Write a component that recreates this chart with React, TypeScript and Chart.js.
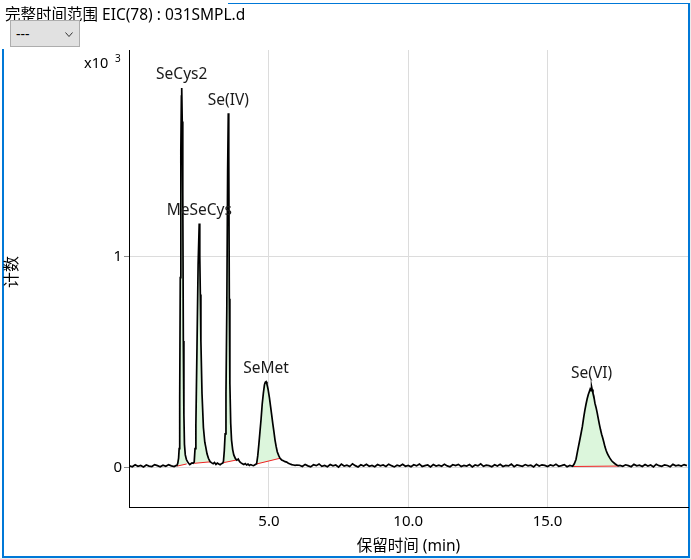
import React, { useEffect, useRef } from 'react';
import { Chart, registerables } from 'chart.js';

Chart.register(...registerables);

const FONT = '"Noto Sans", "Noto Sans CJK SC", sans-serif';

const chartTitle = '完整时间范围 EIC(78) : 031SMPL.d';
const xAxisTitle = '保留时间 (min)';
const yAxisTitle = '计数';
const yScaleLabel = 'x10';
const yScaleExponent = '3';
const dropdownText = '---';

const xTickValues = [5, 10, 15];
const yTickValues = [0, 1000];
const xRange = [-0.02, 20.04];
const yRange = [-187, 1979];

// EIC(78) trace: retention time (min)
const retentionTime = [
  0.0, 0.1, 0.2, 0.3, 0.4, 0.5, 0.6, 0.7, 0.8, 0.9, 1.0, 1.1, 1.2, 1.3, 1.4, 1.5, 1.6,
  1.66, 1.70, 1.73, 1.76, 1.78, 1.80, 1.82, 1.84, 1.86, 1.872, 1.89, 1.91, 1.93, 1.95, 1.97, 2.00, 2.04, 2.08, 2.12, 2.16, 2.20, 2.24, 2.28,
  2.32, 2.35, 2.38, 2.42, 2.46, 2.50, 2.52, 2.54, 2.56, 2.60, 2.65, 2.70, 2.73, 2.78, 2.83, 2.89, 2.95, 3.00, 3.05, 3.10, 3.15, 3.20, 3.25, 3.30,
  3.34, 3.37, 3.40, 3.43, 3.46, 3.49, 3.52, 3.543, 3.56, 3.58, 3.60, 3.63, 3.66, 3.70, 3.74, 3.80, 3.85, 3.90, 3.95, 4.00, 4.05, 4.10, 4.15, 4.20, 4.25, 4.30, 4.35, 4.40, 4.45, 4.50,
  4.56, 4.60, 4.64, 4.68, 4.72, 4.76, 4.80, 4.84, 4.87, 4.90, 4.93, 4.97, 5.02, 5.06, 5.10, 5.14, 5.18, 5.22, 5.26, 5.30, 5.35, 5.40, 5.46, 5.52, 5.58, 5.64, 5.70, 5.76, 5.82, 5.88, 5.94, 6.00,
  6.1, 6.2, 6.3, 6.4, 6.5, 6.6, 6.7, 6.8, 6.9, 7.0,
  7.1, 7.2, 7.3, 7.4, 7.5, 7.6, 7.7, 7.8, 7.9, 8.0,
  8.1, 8.2, 8.3, 8.4, 8.5, 8.6, 8.7, 8.8, 8.9, 9.0,
  9.1, 9.2, 9.3, 9.4, 9.5, 9.6, 9.7, 9.8, 9.9, 10.0,
  10.1, 10.2, 10.3, 10.4, 10.5, 10.6, 10.7, 10.8, 10.9, 11.0,
  11.1, 11.2, 11.3, 11.4, 11.5, 11.6, 11.7, 11.8, 11.9, 12.0,
  12.1, 12.2, 12.3, 12.4, 12.5, 12.6, 12.7, 12.8, 12.9, 13.0,
  13.1, 13.2, 13.3, 13.4, 13.5, 13.6, 13.7, 13.8, 13.9, 14.0,
  14.1, 14.2, 14.3, 14.4, 14.5, 14.6, 14.7, 14.8, 14.9, 15.0,
  15.1, 15.2, 15.3, 15.4, 15.5, 15.6, 15.7, 15.8,
  15.90, 15.96, 16.02, 16.08, 16.14, 16.20, 16.25, 16.30, 16.34, 16.38, 16.42, 16.46, 16.50, 16.53, 16.56, 16.58, 16.60, 16.63, 16.66, 16.70,
  16.74, 16.78, 16.82, 16.86, 16.90, 16.94, 16.98, 17.02, 17.06, 17.10, 17.14, 17.18, 17.22, 17.26, 17.30, 17.36, 17.42, 17.48, 17.54, 17.60,
  17.7, 17.8, 17.9, 18.0, 18.1, 18.2, 18.3, 18.4, 18.5, 18.6, 18.7, 18.8,
  18.9, 19.0, 19.1, 19.2, 19.3, 19.4, 19.5, 19.6, 19.7, 19.8, 19.9, 20.0,
];

// EIC(78) trace: counts
const intensity = [
  8, 4, 13, 6, 10, 3, 12, 7, 5, 14, 9, 4, 11, 6, 13, 8, 5,
  9, 10, 20, 45, 90, 330, 900, 1500, 1760, 1799, 1640, 1300, 600, 250, 110, 60, 38, 28, 20, 14, 18, 22, 20,
  26, 90, 200, 570, 960, 1157, 1000, 820, 600, 350, 190, 120, 100, 65, 44, 28, 22, 18, 24, 15, 21, 17, 13, 19,
  20, 30, 80, 160, 350, 750, 1410, 1679, 1480, 800, 400, 210, 130, 85, 60, 42, 35, 40, 28, 22, 18, 14, 19, 12, 16, 10, 14, 11, 9, 13,
  18, 55, 110, 170, 230, 300, 350, 392, 404, 407, 395, 372, 330, 290, 250, 208, 170, 130, 100, 75, 58, 44, 36, 32, 28, 26, 20, 17, 14, 12, 10, 12,
  11, 5, 15, 8, 3, 13, 9, 17, 6, 10,
  4, 14, 8, 12, 2, 16, 7, 11, 5, 18,
  9, 3, 13, 7, 15, 6, 10, 4, 14, 8,
  12, 5, 16, 9, 3, 11, 7, 15, 6, 10,
  4, 13, 8, 17, 5, 9, 12, 3, 14, 7,
  11, 6, 16, 8, 4, 13, 9, 15, 5, 10,
  7, 14, 3, 12, 8, 18, 6, 11, 9, 4,
  13, 7, 15, 5, 10, 8, 16, 4, 12, 9,
  6, 14, 8, 11, 3, 15, 7, 13, 10, 5,
  12, 8, 16, 6, 9, 14, 4, 10,
  6, 18, 38, 80, 120, 160, 195, 240, 272, 300, 325, 345, 360, 372, 365, 383, 370, 352, 338, 305,
  285, 260, 232, 205, 180, 158, 140, 120, 98, 82, 68, 58, 48, 40, 32, 25, 18, 12, 8, 10,
  6, 13, 9, 4, 15, 8, 11, 5, 14, 7, 12, 3,
  16, 9, 6, 13, 10, 4, 15, 8, 11, 7, 14, 9,
];

// Identified peaks
const peakNames = ['SeCys2', 'MeSeCys', 'Se(IV)', 'SeMet', 'Se(VI)'];
const peakRT = [1.872, 2.503, 3.543, 4.9, 16.58];
const peakHeight = [1799, 1157, 1679, 407, 383];
// Integration baselines
const intStart = [1.71, 2.32, 3.36, 4.56, 15.92];
const intEnd = [2.05, 2.89, 3.85, 5.40, 17.54];
const baseStart = [7, 20, 23, 17, 5];
const baseEnd = [17, 27, 36, 44, 7];

const peakPlugin = {
  id: 'peakPlugin',
  beforeDatasetsDraw(chart: any) {
    const { ctx, chartArea, scales } = chart;
    const x = scales.x;
    const y = scales.y;
    ctx.save();
    ctx.beginPath();
    ctx.rect(chartArea.left, chartArea.top, chartArea.width, chartArea.height);
    ctx.clip();
    ctx.fillStyle = '#dcf6dc';
    peakNames.forEach((_, k) => {
      ctx.beginPath();
      ctx.moveTo(x.getPixelForValue(intStart[k]), y.getPixelForValue(baseStart[k]));
      retentionTime.forEach((t, i) => {
        if (t >= intStart[k] && t <= intEnd[k]) {
          ctx.lineTo(x.getPixelForValue(t), y.getPixelForValue(intensity[i]));
        }
      });
      ctx.lineTo(x.getPixelForValue(intEnd[k]), y.getPixelForValue(baseEnd[k]));
      ctx.closePath();
      ctx.fill();
    });
    ctx.restore();
  },
  afterDatasetsDraw(chart: any) {
    const { ctx, scales } = chart;
    const x = scales.x;
    const y = scales.y;
    ctx.save();
    ctx.font = `15.5px ${FONT}`;
    ctx.fillStyle = '#1a1a1a';
    ctx.textAlign = 'center';
    ctx.textBaseline = 'middle';
    peakNames.forEach((name, k) => {
      ctx.fillText(name, x.getPixelForValue(peakRT[k]), y.getPixelForValue(peakHeight[k]) - 13);
    });
    ctx.restore();
  },
  afterDraw(chart: any) {
    const { ctx, chartArea } = chart;
    ctx.save();
    ctx.fillStyle = '#000';
    ctx.textAlign = 'left';
    ctx.textBaseline = 'alphabetic';
    ctx.font = `15.5px ${FONT}`;
    ctx.fillText(chartTitle, 5, 20);
    ctx.font = `14.5px ${FONT}`;
    ctx.fillText(yScaleLabel, 84, 68);
    ctx.font = `10px ${FONT}`;
    ctx.fillText(yScaleExponent, 115, 62);
    // x axis title
    ctx.font = `15.5px ${FONT}`;
    ctx.textAlign = 'center';
    ctx.fillText(xAxisTitle, (chartArea.left + chartArea.right) / 2, 551);
    // y axis title
    ctx.translate(12, 272);
    ctx.rotate(-Math.PI / 2);
    ctx.font = `16px ${FONT}`;
    ctx.textBaseline = 'middle';
    ctx.fillText(yAxisTitle, 0, 0);
    ctx.restore();
  },
};

export default function App() {
  const canvasRef = useRef<HTMLCanvasElement | null>(null);

  useEffect(() => {
    const canvas = canvasRef.current;
    if (!canvas) return;
    const tracePoints = retentionTime.map((t, i) => ({ x: t, y: intensity[i] }));
    const baselinePoints: any[] = [];
    peakNames.forEach((_, k) => {
      baselinePoints.push({ x: intStart[k], y: baseStart[k] });
      baselinePoints.push({ x: intEnd[k], y: baseEnd[k] });
      baselinePoints.push({ x: intEnd[k] + 0.001, y: null });
    });

    const chart = new Chart(canvas, {
      type: 'line',
      data: {
        datasets: [
          {
            label: 'EIC(78)',
            data: tracePoints,
            borderColor: '#000',
            borderWidth: 1.7,
            pointRadius: 0,
            tension: 0,
            fill: false,
          },
          {
            label: 'baseline',
            data: baselinePoints,
            borderColor: '#ee2222',
            borderWidth: 1,
            pointRadius: 0,
            tension: 0,
            spanGaps: false,
            fill: false,
          },
        ],
      },
      options: {
        responsive: false,
        animation: false,
        events: [],
        layout: { padding: { left: 0, top: 50, right: 3, bottom: 0 } },
        plugins: {
          legend: { display: false },
          tooltip: { enabled: false },
          title: { display: false },
        },
        scales: {
          x: {
            type: 'linear',
            min: xRange[0],
            max: xRange[1],
            afterBuildTicks: (s: any) => {
              s.ticks = xTickValues.map((v) => ({ value: v }));
            },
            afterFit: (s: any) => {
              s.height = 52;
            },
            ticks: {
              callback: (v: any) => Number(v).toFixed(1),
              font: { family: FONT, size: 15 },
              color: '#000',
              padding: 6,
              maxRotation: 0,
              autoSkip: false,
            },
            grid: { color: '#dcdcdc', drawTicks: false, lineWidth: 1 },
            border: { display: true, color: '#000', width: 1 },
          },
          y: {
            type: 'linear',
            min: yRange[0],
            max: yRange[1],
            afterBuildTicks: (s: any) => {
              s.ticks = yTickValues.map((v) => ({ value: v }));
            },
            afterFit: (s: any) => {
              s.width = 129;
            },
            ticks: {
              callback: (v: any) => String(Number(v) / 1000),
              font: { family: FONT, size: 15 },
              color: '#000',
              padding: 2,
            },
            grid: { color: '#dcdcdc', tickLength: 5, tickColor: '#8c8c8c', lineWidth: 1 },
            border: { display: true, color: '#000', width: 1 },
          },
        },
      },
      plugins: [peakPlugin],
    } as any);

    return () => chart.destroy();
  }, []);

  return (
    <div style={{ position: 'absolute', left: 0, top: 0, width: 691, height: 559, background: '#ececec', overflow: 'hidden' }}>
      <div style={{ position: 'absolute', left: 0, top: 0, width: 690, height: 558, background: '#fff' }} />
      <div
        style={{
          position: 'absolute',
          left: 2,
          top: 3,
          width: 688,
          height: 555,
          boxSizing: 'border-box',
          borderLeft: '2px solid #0078d7',
          borderRight: '2px solid #0078d7',
          borderBottom: '2px solid #0078d7',
          borderTop: '1px solid #0078d7',
        }}
      />
      <div style={{ position: 'absolute', left: 0, top: 0, width: 228, height: 49, background: '#fff' }} />
      <canvas ref={canvasRef} width={691} height={559} style={{ position: 'absolute', left: 0, top: 0 }} />
      <div
        style={{
          position: 'absolute',
          left: 10,
          top: 20,
          width: 70,
          height: 27,
          boxSizing: 'border-box',
          background: '#e1e1e1',
          border: '1px solid #adadad',
        }}
      >
        <div
          style={{
            position: 'absolute',
            left: 5,
            top: 3,
            font: `14px ${FONT}`,
            lineHeight: '19px',
            color: '#000',
          }}
        >
          {dropdownText}
        </div>
        <svg width={9} height={6} style={{ position: 'absolute', left: 54, top: 11 }}>
          <polyline points="0.5,0.5 4,4.5 7.5,0.5" stroke="#333" strokeWidth={1} fill="none" />
        </svg>
      </div>
    </div>
  );
}
